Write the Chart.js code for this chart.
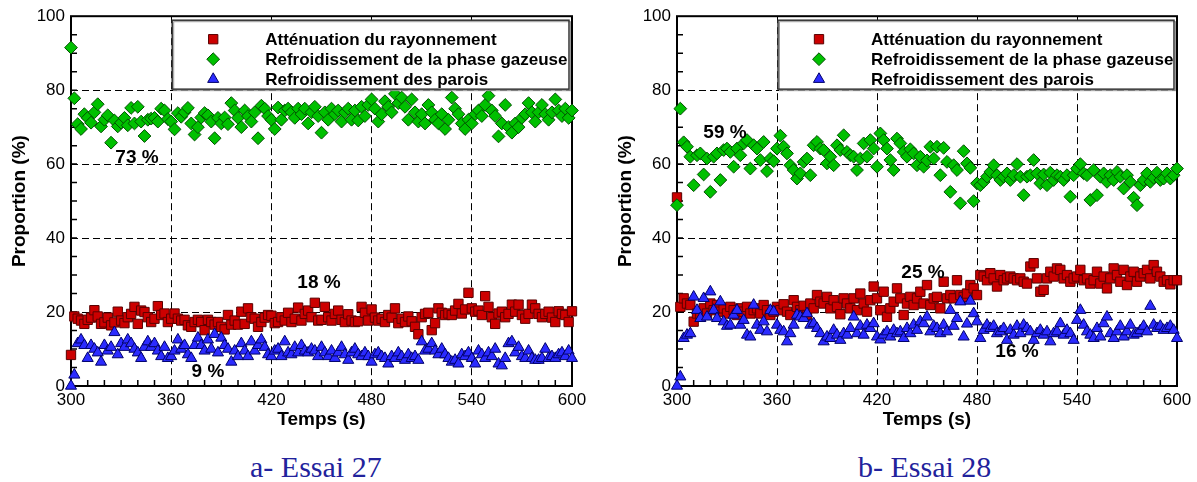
<!DOCTYPE html>
<html><head><meta charset="utf-8">
<script src="https://cdn.jsdelivr.net/npm/chart.js@4.4.1/dist/chart.umd.min.js"></script>
<style>
html,body{margin:0;padding:0;background:#fff;width:1197px;height:482px;overflow:hidden;position:relative}
canvas{position:absolute;top:0}
#c1{left:0}
#c2{left:600px}
.cap{position:absolute;font-family:"Liberation Serif","Times New Roman",serif;font-size:30px;color:#22229c;white-space:nowrap;line-height:1}
</style></head><body>
<canvas id="c1" width="600" height="440"></canvas>
<canvas id="c2" width="597" height="440"></canvas>
<div class="cap" style="left:250px;top:452px">a- Essai 27</div>
<div class="cap" style="left:858px;top:452px">b- Essai 28</div>
<script>
// ---------- DATA ----------
const times = [
300,302,304,306,308,310,312,314,316,318,
320,322,324,326,328,330,332,334,336,338,
340,342,344,346,348,350,352,354,356,358,
360,362,364,366,368,370,372,374,376,378,
380,382,384,386,388,390,392,394,396,398,
400,402,404,406,408,410,412,414,416,418,
420,422,424,426,428,430,432,434,436,438,
440,442,444,446,448,450,452,454,456,458,
460,462,464,466,468,470,472,474,476,478,
480,482,484,486,488,490,492,494,496,498,
500,502,504,506,508,510,512,514,516,518,
520,522,524,526,528,530,532,534,536,538,
540,542,544,546,548,550,552,554,556,558,
560,562,564,566,568,570,572,574,576,578,
580,582,584,586,588,590,592,594,596,598,
600];
const seriesNames = ["Atténuation du rayonnement","Refroidissement de la phase gazeuse","Refroidissement des parois"];
const xTickValues = [300,360,420,480,540,600];
const yTickValues = [0,20,40,60,80,100];

// Essai 27
const attenuation27 = [
8.4,18.8,18.2,17.7,16.8,17.9,18.5,20.5,18.8,16.8,
17.2,18.5,16.4,17.2,20.1,17.7,17,18.6,19.5,21.4,
16.8,20.4,20,18.6,17.3,18.2,21.6,19.2,19.6,17.3,
18.2,19.6,18.2,17.7,17.9,16.4,16,17.3,17.9,17.3,
15.1,17.9,17.3,16.6,17.3,16,15.3,19.2,16.6,17.7,
16.6,20.1,16.8,21,18.6,18.2,16,17.3,18.5,19.2,
19.0,17,17.3,18.6,17.7,19.8,17.3,18.2,21.2,17.7,
19.5,20.4,18.6,22.5,17.7,17.9,21.4,18.6,17.7,19.5,
20.4,17.9,17.3,19.4,17.7,17.3,17.5,21.4,19.8,17.7,
20.7,18.5,17.7,18.2,17.3,19.2,18.5,21.0,17,18.2,
17.3,18.8,17.5,16,14,18.6,19.5,19.8,15.1,17,
21,19.8,19.2,19.6,19.2,20.4,22.2,19.6,20.7,25.2,
21,20.1,20.4,19.2,24.3,21.4,18.6,16.8,19.6,20.1,
18.6,19.5,22,20.1,22,19.2,18.2,19.5,22,21,
19.5,18.6,19.5,20.1,18.5,17.3,20.2,19.5,19.2,17.3,
20.2];
const gaz27 = [
91.5,77.8,70.8,69.5,73.5,72.5,71.2,74,76.2,70.2,
72,73.2,65.8,71.8,70.2,71.2,72.5,70.5,75.2,71,
75.5,71.5,67.6,72,72.3,72.5,71.5,75,74.5,72.2,
71.5,69.4,73.8,72.8,74,75.2,71,68,70,72.6,
73.8,73.2,71.5,67,72.5,71,72.6,70.8,76.5,74.5,
72.5,70,74.5,73,71.5,74,67,75.8,75,73,
72,69.5,75.3,72,74.5,75,74,72.5,75,73.5,
75,71,74,75.5,73,68.5,74,72,75,73.5,
74.5,71.5,74,75,72,74.5,71.8,75.5,73,76,
77.5,75,71.5,73.5,77,75.5,74,79,76.5,78,
75.5,72,77.5,74,71.5,73.5,71,76,74,72,
71,73.5,69.5,72,78,75,73.5,71,69.5,72,
71,73.5,74.5,73,76,78.5,74.5,73,67.5,71,
76,70,68.5,71,70,72.5,73.5,76.5,74,71.5,
74,76,73.5,72,74,77.5,74.5,73,75,72.5,
74.5];
const parois27 = [
0,3,11.5,12.5,11,7.5,11,10,9,6.5,
11,9.5,10.5,14.5,8.5,11.5,10.5,12.5,11.5,10,
9,7.5,10.5,12,10.5,11.5,9.5,8,10.5,7.5,
8,9.5,12.5,10,11,8.5,7.5,11,13,11,
9.5,12.5,10,14,9,13,11,10,6.5,9.5,
8,11.5,9.5,8,12,9.5,11,12.5,10.5,8.5,
8,9.5,10,8,12,9,8.5,10.5,9,11,
9.5,9,10,9.5,8,10.5,9,8,9.5,7.5,
9,10.5,8.5,7,9,10,8.5,8,9,8,
6.5,8.5,9,8,7.5,6,8,7.5,9,8,
7,8.5,7.5,8,7,12,9.5,10,11.5,9.5,
8.5,10,8.5,7.5,6.5,7,6,8.5,8,9,
7.5,6,9.5,8.5,7.5,9,8,10,6,5.5,
7.5,11.5,12,9,10.5,8,7.5,9.5,7.5,7,
7,7.5,10,7.5,8,7.5,8.5,9,8,9.5,
7.5];

// Essai 28
const attenuation28 = [
51,21.4,23.7,22.3,21.9,17.4,19.6,18.7,21,19.6,
22.3,20.5,21.9,20.1,21,19.6,21.4,20.5,19.2,21,
20.1,21.4,19.6,20.5,21,19.6,21.9,20.5,19.2,20.1,
21.4,20.5,22.1,20.1,19.2,23.2,21.4,20.5,21.7,19.2,
22.3,21,24.6,22.8,22.3,24.1,21,23.2,21.4,19.4,
23.7,22.3,21,23.7,20.5,25,22.3,20.1,23.2,26.9,
23.7,20.5,25.5,18.7,21,22.8,26.4,23.7,19.2,22.3,
24.1,21.9,23.7,25.5,22.3,27.3,21.9,23.7,24.1,21,
28.2,23.7,24.6,23.7,28.6,24.6,24.1,25,27.3,26.4,
24.6,30,29.6,28.6,30.5,29.1,26.9,30,28.6,29.1,
29.6,29.1,28.6,29.1,28.2,27.7,32.3,33.2,29.1,25.5,
26,29.1,30.9,29.6,31.8,31.4,29.1,30,28.2,29.1,
29.6,31.4,28.6,29.1,27.7,28.6,30.9,27.7,29.6,26.4,
29.1,31.8,30,28.2,31.4,27.3,29.6,30.9,28.2,29.6,
30.5,31.4,29.1,32.7,30.9,29.6,28.2,28.6,27.5,28.6,
28.6];
const gaz28 = [
48.9,75,65.9,64.7,62,54.3,62.4,62.9,57.2,61.5,
52.5,62,62.9,55.7,63.8,64.2,63.3,59.3,64.2,62.4,
65.6,66.5,58.8,65.1,64.2,61.1,66,58.1,61.5,60.8,
64.2,67.7,64.7,62.9,59.7,58.4,56.1,57.5,60.6,61.5,
57,65.1,66,64.2,63.8,60.2,62,59.7,65.1,63.8,
67.8,63.3,62.4,62,58.4,61.5,65.6,62,66.5,64.2,
59.3,68.3,66.5,64.2,61.1,58.4,66.9,65.6,63.3,62,
64,62.9,59.7,62,59.3,61,64.7,61.5,64.7,57,
64.4,60.6,52.5,59.7,58.4,49.4,63.5,60.2,59,50,
54.8,54.3,55.2,56.6,57.9,59.7,57,55.7,56.6,57.5,
55.7,57,60,56.6,51.6,56.6,57,61.1,57.5,54.8,
57.2,54.3,57.7,55.7,57,56.6,55.7,57,51.2,57,
58.8,60,57.5,57,50.3,58.4,51.6,56.6,57.5,55.2,
57,55.7,57.9,56.6,53.4,57,55.2,50.9,48.9,54.3,
55.7,57.5,55.2,56.3,57.7,55.7,56.1,57.5,56.1,57,
58.8];
const parois28 = [
0,2.5,12.9,13.8,14.2,24.1,20.5,18.3,23.7,18.7,
25.5,20.5,18.3,22.8,17.4,16.2,16.5,19.2,20.5,16.5,
17.8,13.8,13.3,21.9,16.5,15.1,17.4,14.7,20.5,20.1,
16.5,15.1,14.7,12,14.2,16.5,19.2,18.7,18.3,19.6,
16.5,16.9,15.6,14.2,12,13.3,12.9,15.1,13.8,12.4,
14.2,13.8,15.6,18.7,14.2,16.2,13.8,16.5,15.6,16.9,
13.3,12.5,13.8,14.7,13.3,15.1,14.2,14.7,12.9,15.6,
14.2,16.5,15.1,17.4,16.9,18.7,14.7,16.2,15.6,14.2,
16.5,14.7,20.5,16.2,18.3,22.8,13.3,16.8,23,19.6,
17.4,12.9,15.1,16.5,15.6,16.2,14.2,14.7,15.6,12.4,
15.1,13.8,16.2,14.2,16.5,15.6,14.7,12.4,14.2,15.1,
13.8,14.7,12,14.2,14.7,16.9,13.8,15.1,14.2,12.4,
17.8,20.5,16.5,14.7,13.8,12.9,15.6,13.3,16.9,18.7,
14.2,12.9,14.7,16.2,13.3,14.7,16.5,13.8,14.2,15,
16.2,14.7,21.6,16.5,15.6,16.2,15.1,15.6,16.2,15.1,
12.9];

const meanLabels27 = ["18 %","73 %","9 %"];
const meanLabels28 = ["25 %","59 %","16 %"];

// ---------- LAYOUT / STYLE ----------
const FONT = '"Liberation Sans", Arial, Helvetica, sans-serif';
Chart.defaults.font.family = FONT;
Chart.defaults.color = '#000';

const styles = [
  {pointStyle:'rect',    radius:6.6, bg:'#cc0000', border:'#5a0000'},
  {pointStyle:'rectRot', radius:6.4, bg:'#00c000', border:'#005000'},
  {pointStyle:'triangle',radius:6.4, bg:'#2b2bff', border:'#00006a'}
];
const labelPos27 = [{x:448.5,y:27.8},{x:339.5,y:61.6},{x:382,y:3.8}];
const labelPos28 = [{x:447.6,y:30.5},{x:328.8,y:68.4},{x:504,y:9.2}];

function pts(vals){ return times.map((t,i)=>({x:t,y:vals[i]})); }

function drawMarker(ctx, st, x, y){
  ctx.save();
  ctx.fillStyle = st.bg; ctx.strokeStyle = st.border; ctx.lineWidth = 1;
  if (Chart.helpers && Chart.helpers.drawPoint) {
    Chart.helpers.drawPoint(ctx, {pointStyle:st.pointStyle, radius:st.radius, rotation:0, borderWidth:1}, x, y);
  }
  ctx.restore();
}

const framePlugin = {
  id:'frame',
  beforeDatasetsDraw(chart){
    const {ctx, chartArea:a, scales:{x,y}} = chart;
    ctx.save();
    ctx.strokeStyle = '#000'; ctx.lineWidth = 1.5;
    ctx.beginPath();
    for (let t=310; t<600; t+=10){
      const px = x.getPixelForValue(t);
      ctx.moveTo(px, a.bottom); ctx.lineTo(px, a.bottom-6);
    }
    for (let v=5; v<100; v+=5){
      const py = y.getPixelForValue(v);
      ctx.moveTo(a.left, py); ctx.lineTo(a.left+6, py);
    }
    ctx.stroke();
    ctx.lineWidth = 2;
    ctx.strokeRect(a.left, a.top, a.right-a.left, a.bottom-a.top);
    ctx.restore();
  },
  afterDraw(chart){
    const {ctx, chartArea:a, scales:{x,y}} = chart;
    const o = chart.options.plugins.frame;
    // legend box
    const L = x.getPixelForValue(360)+1, T = a.top+4, R = a.right-3, B = y.getPixelForValue(80)-1;
    ctx.save();
    ctx.fillStyle = '#fff';
    ctx.fillRect(L, T, R-L, B-T);
    ctx.strokeStyle = '#999'; ctx.lineWidth = 1;
    ctx.strokeRect(L+1.5, T+1.5, R-L, B-T);
    ctx.strokeStyle = '#333'; ctx.lineWidth = 1.5;
    ctx.strokeRect(L, T, R-L, B-T);
    ctx.font = 'bold 17px ' + FONT;
    ctx.textBaseline = 'middle'; ctx.textAlign = 'left'; ctx.fillStyle = '#000';
    chart.data.datasets.forEach((ds, i) => {
      const cy = T + 19 + i*20;
      drawMarker(ctx, styles[i], L+41, cy);
      ctx.fillStyle = '#000';
      ctx.fillText(ds.label, L+93, cy+1);
    });
    // mean labels
    ctx.font = 'bold 19px ' + FONT;
    ctx.textAlign = 'center';
    o.labels.forEach((txt, i) => {
      ctx.fillText(txt, x.getPixelForValue(o.pos[i].x), y.getPixelForValue(o.pos[i].y));
    });
    ctx.restore();
  }
};

function makeChart(id, series, labels, pos, yAxisWidth, rightPad, yTitlePad){
  return new Chart(document.getElementById(id), {
    type:'scatter',
    data:{ datasets: series.map((vals,i)=>({
      label: seriesNames[i],
      data: pts(vals),
      pointStyle: styles[i].pointStyle,
      pointRadius: styles[i].radius,
      pointHoverRadius: styles[i].radius,
      backgroundColor: styles[i].bg,
      borderColor: styles[i].border,
      borderWidth: 1,
      clip: false,
      order: 3-i
    }))},
    options:{
      responsive:false, animation:false, devicePixelRatio:1,
      layout:{ padding:{ left:0, top:16, right:rightPad, bottom:0 } },
      plugins:{ legend:{display:false}, tooltip:{enabled:false},
        frame:{ labels: labels, pos: pos } },
      scales:{
        x:{ type:'linear', min:300, max:600,
            afterBuildTicks: s => { s.ticks = xTickValues.map(v=>({value:v})); },
            afterFit: s => { s.height = 54; },
            grid:{ color:'#000', lineWidth:1, drawTicks:false },
            border:{ display:false, dash:[7,4] },
            ticks:{ padding:4, font:{size:17}, color:'#000', maxRotation:0 },
            title:{ display:true, text:'Temps (s)', font:{size:19, weight:'bold'}, color:'#000', padding:{top:0,bottom:9} } },
        y:{ type:'linear', min:0, max:100,
            afterBuildTicks: s => { s.ticks = yTickValues.map(v=>({value:v})); },
            afterFit: s => { s.width = yAxisWidth; },
            grid:{ color:'#000', lineWidth:1, drawTicks:false },
            border:{ display:false, dash:[7,4] },
            ticks:{ padding:6, font:{size:17}, color:'#000' },
            title:{ display:true, text:'Proportion (%)', font:{size:19, weight:'bold'}, color:'#000', padding:{top:yTitlePad,bottom:0} } }
      }
    },
    plugins:[framePlugin]
  });
}

makeChart('c1', [attenuation27, gaz27, parois27], meanLabels27, labelPos27, 71, 28, 8);
makeChart('c2', [attenuation28, gaz28, parois28], meanLabels28, labelPos28, 77, 20, 14);
</script>
</body></html>
